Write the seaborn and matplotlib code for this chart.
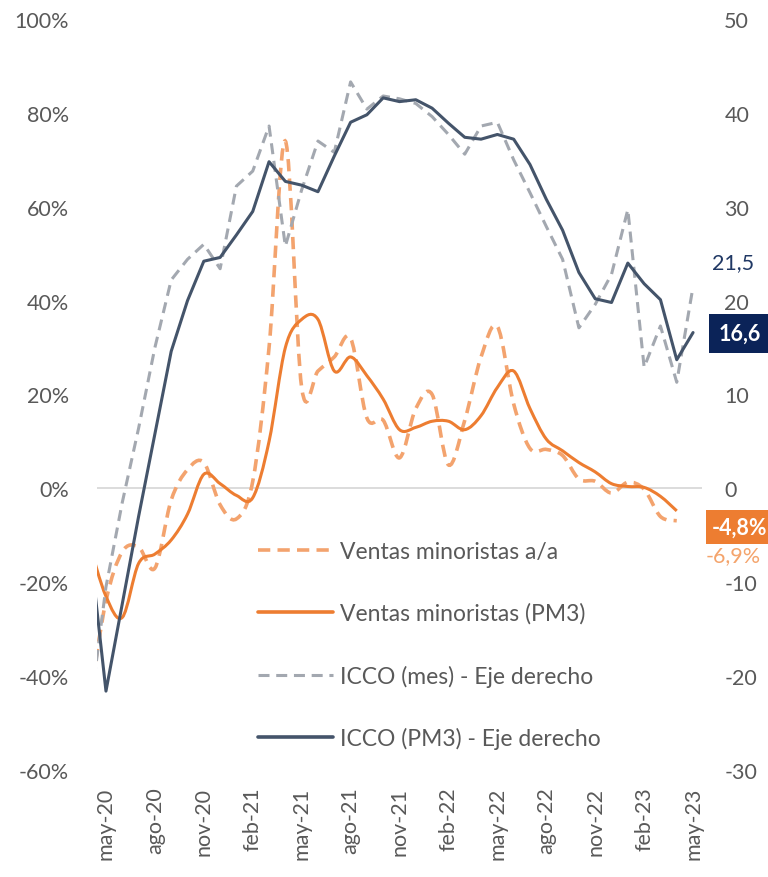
import numpy as np
import seaborn as sns
import matplotlib
matplotlib.use('Agg')
import matplotlib.pyplot as plt
from matplotlib.path import Path
from matplotlib.patches import PathPatch
from matplotlib.lines import Line2D
from matplotlib.transforms import blended_transform_factory

# Datos mensuales desde abr-20 hasta may-23
MESES = ['abr-20', 'may-20', 'jun-20', 'jul-20', 'ago-20', 'sep-20', 'oct-20', 'nov-20', 'dic-20',
         'ene-21', 'feb-21', 'mar-21', 'abr-21', 'may-21', 'jun-21', 'jul-21', 'ago-21', 'sep-21',
         'oct-21', 'nov-21', 'dic-21', 'ene-22', 'feb-22', 'mar-22', 'abr-22', 'may-22', 'jun-22',
         'jul-22', 'ago-22', 'sep-22', 'oct-22', 'nov-22', 'dic-22', 'ene-23', 'feb-23', 'mar-23',
         'abr-23', 'may-23']

# Ventas minoristas (%), eje izquierdo
VENTAS_AA = [-45, -24, -13.5, -12.5, -17, -2.5, 4, 5.5, -3.5,
             -6.5, 1.5, 30, 74, 21.5, 25, 28, 32, 15,
             14.5, 6.5, 17, 20, 5, 14.5, 28, 34.5, 18,
             8.5, 8.3, 7, 2, 1.5, -1, 1.3, -0.2, -6,
             -6.9, np.nan]
VENTAS_PM3 = [-12, -23, -27.5, -16, -14, -11, -5.5, 3, 1,
              -1.5, -2, 10, 30, 36, 36, 25, 28, 24,
              19, 12.5, 13, 14.3, 14.3, 12.5, 15.5, 21.5, 25,
              17, 10.5, 8, 5.5, 3.5, 1, 0.4, 0.2, -1.7,
              -4.8, np.nan]

# ICCO, eje derecho
ICCO_MES = [-24, -10.5, -1.5, 6.4, 15, 22.2, 24.4, 26, 23.4,
            32.2, 33.8, 38.6, 25.8, 31.8, 37, 35.8, 43.3, 40.4,
            41.8, 41.5, 41, 39.6, 37.7, 35.6, 38.6, 39, 35,
            31.5, 27.9, 24.4, 17.1, 19.6, 22.8, 29.7, 12.9, 17.3,
            11.3, 21.5]
ICCO_PM3 = [-6, -21.6, -12.3, -3, 5.8, 14.6, 20, 24.2, 24.6,
            27, 29.5, 34.8, 32.7, 32.3, 31.6, 35.4, 39, 39.8,
            41.6, 41.2, 41.4, 40.5, 38.9, 37.4, 37.2, 37.7, 37.2,
            34.5, 30.8, 27.5, 23, 20.2, 19.8, 24, 21.8, 20.1,
            13.7, 16.6]

ETIQUETAS_X = ['may-20', 'ago-20', 'nov-20', 'feb-21', 'may-21', 'ago-21', 'nov-21',
               'feb-22', 'may-22', 'ago-22', 'nov-22', 'feb-23', 'may-23']

NARANJA = '#ED7D31'
NARANJA_CLARO = '#F3A36E'
GRIS = '#A3A8B0'
AZUL = '#44546A'
TEXTO = '#595959'
FUENTE = 15.5
FUENTE_LEYENDA = 16.5


def curvaSuave(x, y):
    """Curva suavizada tipo Excel (Catmull-Rom pasado a Bezier)."""
    pts = np.column_stack([x, y])
    n = len(pts)
    verts = [pts[0]]
    codes = [Path.MOVETO]
    for i in range(n - 1):
        p0 = pts[max(i - 1, 0)]
        p1 = pts[i]
        p2 = pts[i + 1]
        p3 = pts[min(i + 2, n - 1)]
        verts += [p1 + (p2 - p0) / 6, p2 - (p3 - p1) / 6, p2]
        codes += [Path.CURVE4] * 3
    return Path(verts, codes)


sns.set_theme(style='white')
plt.rcParams['font.family'] = ['Lato', 'DejaVu Sans']

x = np.arange(len(MESES)) - 1  # may-20 = 0

fig = plt.figure(figsize=(7.68, 8.78), dpi=100)
ax = fig.add_axes([0.1263, 0.1219, 0.7878, 0.8553])
ax2 = ax.twinx()

ax.axhline(0, color='#D9D9D9', lw=1.3, zorder=1)

# ventas (curvas suavizadas)
va = np.array(VENTAS_AA, dtype=float)
ok = ~np.isnan(va)
ax.add_patch(PathPatch(curvaSuave(x[ok], va[ok]), fill=False, edgecolor=NARANJA_CLARO,
                       lw=2.6, linestyle=(0, (3.4, 2.0)), zorder=3))
vp = np.array(VENTAS_PM3, dtype=float)
ok = ~np.isnan(vp)
ax.add_patch(PathPatch(curvaSuave(x[ok], vp[ok]), fill=False, edgecolor=NARANJA,
                       lw=2.2, zorder=4))

# ICCO
sns.lineplot(x=x, y=ICCO_MES, ax=ax2, color=GRIS, lw=2.2, linestyle=(0, (3.6, 2.2)))
sns.lineplot(x=x, y=ICCO_PM3, ax=ax2, color=AZUL, lw=2.2)

ax.set_xlim(-0.55, 36.55)
ax.set_ylim(-60, 100)
ax2.set_ylim(-30, 50)
ax.set_yticks(range(-60, 101, 20))
ax.set_yticklabels([f'{v}%' for v in range(-60, 101, 20)])
ax2.set_yticks(range(-30, 51, 10))
ax2.set_yticklabels([str(v) for v in range(-30, 51, 10)])
ax.set_xticks(range(0, 37, 3))
ax.set_xticklabels(ETIQUETAS_X, rotation=90)
ax.set_xlabel('')
ax2.set_xlabel('')
ax2.set_ylabel('')

for a in (ax, ax2):
    for s in a.spines.values():
        s.set_visible(False)
ax.tick_params(axis='y', length=0, pad=20, labelsize=FUENTE, labelcolor=TEXTO)
ax.tick_params(axis='x', length=0, pad=12, labelsize=FUENTE, labelcolor=TEXTO)
ax2.tick_params(axis='y', length=0, pad=16, labelsize=FUENTE, labelcolor=TEXTO)

# etiquetas de último dato
tr2 = blended_transform_factory(ax2.transAxes, ax2.transData)
tr1 = blended_transform_factory(ax.transAxes, ax.transData)
ax2.text(1.051, 24.1, '21,5', transform=tr2, ha='center', va='center',
         fontsize=FUENTE, color='#203864', clip_on=False)
ax2.text(1.027, 16.5, '16,6', transform=tr2, ha='left', va='center', fontsize=FUENTE,
         fontweight='bold', color='white', clip_on=False,
         bbox=dict(boxstyle='square,pad=0.42', fc='#0B2358', ec='none'))
ax2.text(1.0165, -8.3, '-4,8%', transform=tr1, ha='left', va='center', fontsize=FUENTE,
         fontweight='bold', color='white', clip_on=False,
         bbox=dict(boxstyle='square,pad=0.3', fc=NARANJA, ec='none'))
ax2.text(1.051, -14.2, '-6,9%', transform=tr1, ha='center', va='center',
         fontsize=FUENTE, color='#F4A46C', clip_on=False)

handles = [
    Line2D([], [], color=NARANJA_CLARO, lw=2.6, linestyle=(0, (3.4, 2.0))),
    Line2D([], [], color=NARANJA, lw=2.6),
    Line2D([], [], color=GRIS, lw=2.2, linestyle=(0, (3.6, 2.2))),
    Line2D([], [], color=AZUL, lw=2.6),
]
labels = ['Ventas minoristas a/a', 'Ventas minoristas (PM3)',
          'ICCO (mes) - Eje derecho', 'ICCO (PM3) - Eje derecho']
leg = ax2.legend(handles, labels, loc='upper left', bbox_to_anchor=(0.266, 0.305),
                 frameon=False, fontsize=FUENTE_LEYENDA, handlelength=3.27, handletextpad=0.3,
                 labelspacing=1.77, borderpad=0, borderaxespad=0)
for t in leg.get_texts():
    t.set_color(TEXTO)

plt.savefig('out.png', dpi=100)
